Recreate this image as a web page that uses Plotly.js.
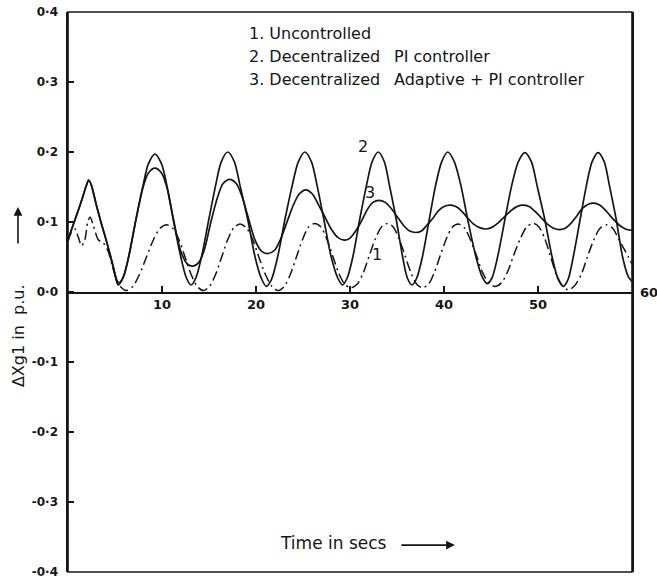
<!DOCTYPE html>
<html>
<head>
<meta charset="utf-8">
<script src="https://cdn.plot.ly/plotly-3.0.1.min.js"></script>
<style>html,body{margin:0;padding:0;background:#fff;}#chart{width:657px;height:580px;}</style>
</head>
<body>
<div id="chart"></div>
<script>
// Series 1: Uncontrolled (dash-dot)
const t1 = [0,0.35,0.74,1.1,1.45,1.8,2.1,2.34,2.7,3.2,3.6,3.9,4.3,4.8,5.2,5.7,6.2,
  6.9,7.6,8.35,9.1,9.8,10.5,11.15,11.8,12.45,13.1,13.75,14.4,
  15.05,15.7,16.35,17.0,17.65,18.3,18.95,19.65,20.3,21.0,21.7,22.35,
  23.0,23.65,24.3,24.95,25.6,26.25,26.9,27.55,28.2,28.8,29.45,30.1,
  30.75,31.4,32.05,32.7,33.35,34.0,34.6,35.25,35.85,36.5,37.1,37.7,
  38.35,38.95,39.6,40.25,40.85,41.5,42.15,42.8,43.45,44.1,44.75,45.4,
  46.1,46.8,47.45,48.15,48.8,49.5,50.1,50.75,51.35,51.95,52.6,53.2,
  53.9,54.6,55.25,55.95,56.6,57.3,57.95,58.6,59.3,60];
const v1 = [0.072,0.085,0.09,0.078,0.066,0.075,0.1,0.107,0.095,0.075,0.071,0.068,0.057,0.033,0.017,0.006,0.002,
  0.008,0.025,0.05,0.075,0.091,0.096,0.091,0.075,0.05,0.025,0.008,0.002,
  0.008,0.025,0.05,0.075,0.092,0.097,0.092,0.075,0.05,0.025,0.008,0.002,
  0.008,0.025,0.05,0.075,0.093,0.098,0.093,0.075,0.05,0.027,0.011,0.006,
  0.011,0.027,0.052,0.076,0.093,0.098,0.093,0.075,0.052,0.027,0.011,0.006,
  0.011,0.027,0.052,0.076,0.092,0.097,0.092,0.075,0.052,0.028,0.013,0.008,
  0.013,0.03,0.054,0.077,0.093,0.098,0.093,0.075,0.05,0.025,0.009,0.003,
  0.009,0.025,0.05,0.075,0.091,0.096,0.091,0.075,0.058,0.04];

// Series 2: Decentralized PI controller
const t2 = [0,0.5,1.0,1.5,1.9,2.2,2.5,3.0,3.5,4.0,4.5,4.9,5.15,5.35,
  5.85,6.45,7.25,7.95,8.55,9.25,9.95,10.55,11.2,12.0,12.6,13.1,
  13.6,14.2,15.0,15.7,16.3,17.0,17.7,18.3,19.1,19.9,20.55,21.1,
  21.65,22.3,23.1,23.85,24.5,25.2,25.9,26.5,27.2,28.0,28.7,29.2,
  29.7,30.3,31.05,31.75,32.35,33.0,33.65,34.2,34.9,35.6,36.1,36.6,
  37.1,37.7,38.45,39.1,39.75,40.4,41.1,41.8,42.5,43.4,44.05,44.6,
  45.1,45.7,46.5,47.2,47.9,48.6,49.3,49.9,50.7,51.5,52.15,52.7,
  53.2,53.75,54.5,55.15,55.75,56.4,57.05,57.6,58.3,59.0,59.6,60];
const v2 = [0.075,0.094,0.113,0.133,0.15,0.16,0.152,0.125,0.1,0.077,0.052,0.03,0.016,0.01,
  0.02,0.05,0.105,0.15,0.183,0.197,0.183,0.15,0.103,0.05,0.02,0.01,
  0.02,0.05,0.105,0.152,0.186,0.2,0.186,0.152,0.105,0.05,0.02,0.008,
  0.018,0.05,0.105,0.152,0.186,0.2,0.186,0.152,0.105,0.05,0.02,0.01,
  0.02,0.05,0.105,0.152,0.186,0.2,0.186,0.152,0.105,0.05,0.02,0.01,
  0.02,0.05,0.105,0.152,0.186,0.2,0.186,0.152,0.105,0.05,0.022,0.012,
  0.02,0.05,0.105,0.152,0.186,0.199,0.186,0.152,0.105,0.05,0.018,0.008,
  0.018,0.05,0.105,0.152,0.186,0.199,0.186,0.152,0.105,0.05,0.022,0.015];

// Series 3: Decentralized Adaptive + PI controller
const t3 = [0,0.5,1.0,1.5,1.9,2.2,2.5,3.0,3.5,4.0,4.5,4.9,5.15,5.4,
  5.9,6.45,7.25,7.95,8.55,9.25,9.95,10.55,11.2,12.0,12.7,13.3,
  13.9,14.5,15.2,15.9,16.5,17.2,17.9,18.5,19.2,19.9,20.6,21.3,
  22.0,22.6,23.3,24.0,24.6,25.3,26.0,26.6,27.3,28.0,28.7,29.4,
  30.0,30.6,31.25,31.85,32.45,33.1,33.75,34.35,35.05,35.7,36.35,37.0,
  37.6,38.15,38.8,39.4,40.0,40.6,41.25,41.85,42.5,43.15,43.8,44.4,
  45.05,45.7,46.4,47.1,47.75,48.4,49.05,49.7,50.35,51.0,51.65,52.3,
  52.9,53.5,54.1,54.7,55.3,55.9,56.6,57.3,58.0,58.7,59.3,60];
const v3 = [0.075,0.094,0.113,0.133,0.15,0.16,0.152,0.125,0.1,0.077,0.053,0.032,0.019,0.013,
  0.022,0.05,0.105,0.148,0.17,0.177,0.17,0.148,0.105,0.058,0.04,0.037,
  0.042,0.06,0.1,0.135,0.155,0.161,0.155,0.137,0.105,0.074,0.058,0.055,
  0.06,0.075,0.1,0.125,0.14,0.146,0.14,0.126,0.108,0.09,0.078,0.074,
  0.077,0.087,0.102,0.118,0.128,0.131,0.128,0.12,0.107,0.095,0.087,0.085,
  0.087,0.095,0.105,0.116,0.122,0.124,0.122,0.116,0.106,0.097,0.092,0.09,
  0.092,0.098,0.107,0.116,0.122,0.124,0.122,0.115,0.106,0.097,0.091,0.089,
  0.091,0.098,0.108,0.119,0.125,0.127,0.124,0.115,0.104,0.095,0.09,0.088];

const seriesNames = ['1. Uncontrolled','2. Decentralized PI controller','3. Decentralized Adaptive + PI controller'];
const yTickVals = [-0.4,-0.3,-0.2,-0.1,0,0.1,0.2,0.3,0.4];
const yTickText = ['-0·4','-0·3','-0·2','-0·1','0·0','0·1','0·2','0·3','0·4'];
const xTickVals = [10,20,30,40,50];
const xTickText = ['10','20','30','40','50'];
const xEndLabel = '60';
const curveLabels = [
  {text:'2', x:31.4, y:0.208},
  {text:'3', x:32.1, y:0.142},
  {text:'1', x:32.85, y:0.053}
];

const ink = '#151515';
const lineFont = 'DejaVu Sans, sans-serif';

const traces = [
  {x:t1, y:v1, name:seriesNames[0], mode:'lines', line:{color:ink, width:1.5, dash:'10px,4px,2px,4px', shape:'spline', smoothing:0.8}},
  {x:t2, y:v2, name:seriesNames[1], mode:'lines', line:{color:ink, width:1.7, shape:'spline', smoothing:0.8}},
  {x:t3, y:v3, name:seriesNames[2], mode:'lines', line:{color:ink, width:1.7, shape:'spline', smoothing:0.8}}
];

const legFont = {family:lineFont, size:16, color:ink};
const annotations = [
  {xref:'paper', yref:'paper', x:0.317, y:0.961, xanchor:'left', yanchor:'middle', showarrow:false, text:'1. Uncontrolled', font:legFont},
  {xref:'paper', yref:'paper', x:0.317, y:0.920, xanchor:'left', yanchor:'middle', showarrow:false, text:'2. Decentralized', font:legFont},
  {xref:'paper', yref:'paper', x:0.317, y:0.879, xanchor:'left', yanchor:'middle', showarrow:false, text:'3. Decentralized', font:legFont},
  {xref:'paper', yref:'paper', x:0.5745, y:0.920, xanchor:'left', yanchor:'middle', showarrow:false, text:'PI controller', font:legFont},
  {xref:'paper', yref:'paper', x:0.5745, y:0.879, xanchor:'left', yanchor:'middle', showarrow:false, text:'Adaptive + PI controller', font:legFont},
  // x-axis title and its arrow
  {xref:'paper', yref:'paper', x:0.47, y:0.052, xanchor:'center', yanchor:'middle', showarrow:false, text:'Time in secs', font:{family:lineFont, size:17, color:ink}},
  {xref:'paper', yref:'paper', x:0.686, y:0.048, showarrow:true, ax:-55, ay:0, text:'', arrowhead:2, arrowsize:1.1, arrowwidth:1.6, arrowcolor:ink},
  // y-axis title and its arrow
  {xref:'paper', yref:'paper', x:-0.0887, y:0.423, xanchor:'center', yanchor:'middle', showarrow:false, textangle:-90, text:'ΔXg1 in  p.u.', font:{family:lineFont, size:16, color:ink}},
  {xref:'paper', yref:'paper', x:-0.0887, y:0.652, showarrow:true, ax:0, ay:38, text:'', arrowhead:2, arrowsize:1.1, arrowwidth:1.6, arrowcolor:ink},
  {xref:'x', yref:'y', x:60, y:0, xanchor:'left', yanchor:'middle', xshift:6, showarrow:false, text:xEndLabel, font:{family:lineFont, size:13, color:ink, weight:'bold'}}
];
curveLabels.forEach(c => annotations.push({xref:'x', yref:'y', x:c.x, y:c.y, showarrow:false, text:c.text, font:{family:lineFont, size:16, color:ink}}));

const layout = {
  width:657, height:580,
  margin:{l:68, r:25, t:12, b:8, pad:0},
  paper_bgcolor:'#fff', plot_bgcolor:'#fff',
  showlegend:false,
  xaxis:{range:[0,60], anchor:'free', position:0.5, tickvals:xTickVals, ticktext:xTickText,
    ticks:'inside', ticklen:6, tickwidth:1.3, tickcolor:ink, showline:true, linecolor:ink, linewidth:1.6,
    showgrid:false, zeroline:false, tickfont:{family:lineFont, size:13, color:ink, weight:'bold'}},
  yaxis:{range:[-0.4,0.4], tickvals:yTickVals, ticktext:yTickText, ticks:'inside', ticklen:6, tickwidth:1.3,
    tickcolor:ink, showline:true, mirror:true, linecolor:ink, linewidth:1.6, showgrid:false, zeroline:false,
    ticklabelstandoff:6, tickfont:{family:lineFont, size:12, color:ink, weight:'bold'}},
  shapes:[{type:'rect', xref:'paper', yref:'paper', x0:0, x1:1, y0:0, y1:1, line:{color:ink, width:1.6}}],
  annotations:annotations
};

Plotly.newPlot('chart', traces, layout, {displayModeBar:false, staticPlot:true});
</script>
</body>
</html>
